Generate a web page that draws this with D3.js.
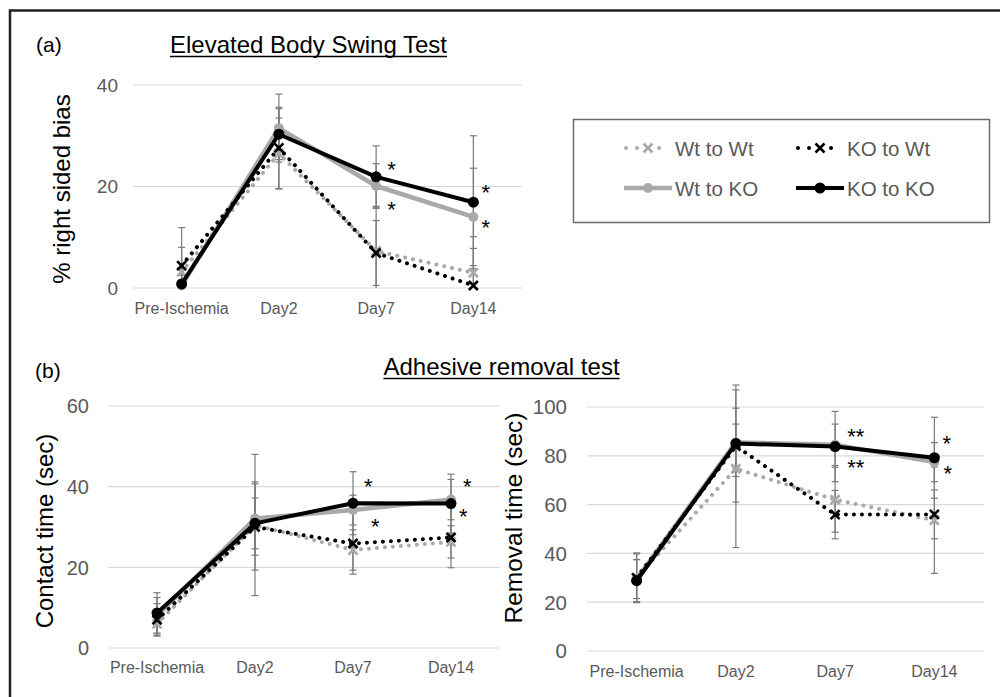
<!DOCTYPE html>
<html>
<head>
<meta charset="utf-8">
<script src="https://cdn.jsdelivr.net/npm/d3@7"></script>
<style>
  html, body { margin: 0; padding: 0; background: #fff; }
  svg { display: block; font-family: "Liberation Sans", Arial, sans-serif; }
</style>
</head>
<body>
<svg id="chart" width="1000" height="697"></svg>
<script>
// ---------------- DATA ----------------
const categories = ["Pre-Ischemia", "Day2", "Day7", "Day14"];
const seriesNames = ["Wt to Wt", "KO to Wt", "Wt to KO", "KO to KO"];

// (a) Elevated Body Swing Test: % right sided bias
const swingTicks = [0, 20, 40];
const swingWtWt = [3.2, 26.5, 7.3, 3.0];
const swingKOWt = [4.4, 27.6, 6.9, 0.5];
const swingWtKO = [0.5, 31.5, 20.1, 14.0];
const swingKOKO = [0.8, 30.3, 21.9, 16.9];
const swingErrWtWt = [4.8, 7.0, 8.8, 7.1];
const swingErrKOWt = [7.5, 8.0, 6.4, 7.3];
const swingErrWtKO = [2.0, 6.7, 4.4, 9.6];
const swingErrKOKO = [3.0, 5.0, 6.1, 13.1];
const swingStars = [
  { cat: "Day7", y: 24.0, dx: 15, text: "*" },
  { cat: "Day7", y: 16.2, dx: 15, text: "*" },
  { cat: "Day14", y: 19.5, dx: 12, text: "*" },
  { cat: "Day14", y: 12.6, dx: 12, text: "*" }
];

// (b) Adhesive removal test: Contact time (sec)
const contactTicks = [0, 20, 40, 60];
const contactWtWt = [6.0, 30.5, 24.3, 26.3];
const contactKOWt = [7.0, 30.0, 25.9, 27.4];
const contactWtKO = [8.0, 32.1, 34.2, 36.8];
const contactKOKO = [8.7, 30.9, 35.9, 35.8];
const contactErrWtWt = [3.0, 17.5, 5.0, 4.0];
const contactErrKOWt = [4.0, 10.7, 7.6, 7.5];
const contactErrWtKO = [4.5, 9.1, 3.7, 5.0];
const contactErrKOKO = [5.0, 6.3, 7.8, 7.3];
const contactStars = [
  { cat: "Day7", y: 40.9, dx: 15, text: "*" },
  { cat: "Day7", y: 31.0, dx: 22, text: "*" },
  { cat: "Day14", y: 40.9, dx: 16, text: "*" },
  { cat: "Day14", y: 33.5, dx: 12, text: "*" }
];

// (b) Adhesive removal test: Removal time (sec)
const removalTicks = [0, 20, 40, 60, 80, 100];
const removalWtWt = [30.0, 74.7, 62.0, 53.6];
const removalKOWt = [30.0, 84.0, 55.9, 56.0];
const removalWtKO = [29.5, 85.5, 84.5, 77.4];
const removalKOKO = [28.8, 85.0, 83.8, 79.2];
const removalErrWtWt = [10.2, 32.3, 13.3, 21.8];
const removalErrKOWt = [9.8, 9.0, 9.9, 10.0];
const removalErrWtKO = [8.0, 14.0, 8.5, 8.0];
const removalErrKOKO = [8.6, 24.0, 14.4, 16.6];
const removalStars = [
  { cat: "Day7", y: 89.2, dx: 14, text: "**" },
  { cat: "Day7", y: 76.5, dx: 14, text: "**" },
  { cat: "Day14", y: 86.3, dx: 12, text: "*" },
  { cat: "Day14", y: 74.0, dx: 13, text: "*" }
];

// ---------------- STYLES ----------------
const GRAY = "#a9a9a9";
const styles = {
  "Wt to Wt": { color: GRAY, dotted: true, marker: "x", width: 4 },
  "KO to Wt": { color: "#000", dotted: true, marker: "x", width: 4 },
  "Wt to KO": { color: GRAY, dotted: false, marker: "o", width: 4.5, r: 5 },
  "KO to KO": { color: "#000", dotted: false, marker: "o", width: 4, r: 5.5 }
};

const svg = d3.select("#chart");

// outer frame (top and left edges)
svg.append("path")
  .attr("d", "M10,697 V10.5 H1000")
  .attr("fill", "none").attr("stroke", "#222").attr("stroke-width", 2.5);

function drawMarker(g, type, cx, cy, st) {
  if (type === "x") {
    const s = 4.5;
    g.append("path")
      .attr("d", `M${cx - s},${cy - s}L${cx + s},${cy + s}M${cx - s},${cy + s}L${cx + s},${cy - s}`)
      .attr("stroke", st.color).attr("stroke-width", 2.6).attr("fill", "none");
  } else {
    g.append("circle").attr("cx", cx).attr("cy", cy).attr("r", st.r)
      .attr("fill", st.color);
  }
}

function drawPanel(cfg) {
  const x = d3.scaleBand().domain(categories).range([cfg.x0, cfg.x1]);
  const y = d3.scaleLinear().domain([0, cfg.ymax]).range([cfg.yb, cfg.yt]);
  const g = svg.append("g");

  // gridlines
  g.selectAll("line.grid").data(cfg.ticks).enter().append("line")
    .attr("x1", cfg.x0).attr("x2", cfg.x1)
    .attr("y1", d => y(d)).attr("y2", d => y(d))
    .attr("stroke", "#d9d9d9").attr("stroke-width", 1.2);

  // y tick labels
  g.selectAll("text.yt").data(cfg.ticks).enter().append("text")
    .attr("x", cfg.ylabX).attr("y", d => y(d)).attr("dy", "0.36em")
    .attr("text-anchor", "end").attr("fill", "#595959")
    .attr("font-size", cfg.yTickSize).text(d => d);

  // x tick labels
  g.selectAll("text.xt").data(categories).enter().append("text")
    .attr("x", d => x(d) + x.bandwidth() / 2).attr("y", cfg.xlabY)
    .attr("text-anchor", "middle").attr("fill", "#595959")
    .attr("font-size", 16).text(d => d);

  // axis title
  g.append("text")
    .attr("transform", `translate(${cfg.titleX},${cfg.titleY}) rotate(-90)`)
    .attr("text-anchor", "middle").attr("fill", "#000")
    .attr("font-size", cfg.titleSize).text(cfg.title);

  const cx = d => x(d) + x.bandwidth() / 2;
  const ymin = 0;

  // error bars
  const eg = g.append("g");
  cfg.series.forEach((vals, si) => {
    const errs = cfg.errors[si];
    categories.forEach((c, i) => {
      const hi = vals[i] + errs[i];
      const lo = Math.max(ymin, vals[i] - errs[i]);
      const px = cx(c);
      eg.append("line").attr("x1", px).attr("x2", px)
        .attr("y1", y(hi)).attr("y2", y(lo))
        .attr("stroke", "#7a7a7a").attr("stroke-width", 1.2);
      eg.append("line").attr("x1", px - 3.5).attr("x2", px + 3.5)
        .attr("y1", y(hi)).attr("y2", y(hi))
        .attr("stroke", "#7a7a7a").attr("stroke-width", 1.2);
      if (vals[i] - errs[i] >= ymin) {
        eg.append("line").attr("x1", px - 3.5).attr("x2", px + 3.5)
          .attr("y1", y(lo)).attr("y2", y(lo))
          .attr("stroke", "#7a7a7a").attr("stroke-width", 1.2);
      }
    });
  });

  // series lines and markers (draw order: Wt-Wt, Wt-KO, KO-Wt, KO-KO)
  const order = [0, 2, 1, 3];
  const line = d3.line().x((d, i) => cx(categories[i])).y(d => y(d));
  order.forEach(si => {
    const name = seriesNames[si];
    const st = styles[name];
    const vals = cfg.series[si];
    const p = g.append("path").attr("d", line(vals))
      .attr("fill", "none").attr("stroke", st.color)
      .attr("stroke-width", st.width)
      .attr("stroke-linejoin", "round");
    if (st.dotted) {
      p.attr("stroke-dasharray", "0.01 8").attr("stroke-linecap", "round");
    }
    vals.forEach((v, i) => drawMarker(g, st.marker, cx(categories[i]), y(v), st));
  });

  // significance stars
  g.selectAll("text.star").data(cfg.stars).enter().append("text")
    .attr("x", d => cx(d.cat) + d.dx).attr("y", d => y(d.y) + 11)
    .attr("fill", "#000").attr("font-size", 22)
    .attr("text-anchor", "start")
    .attr("dx", d => d.text.length > 1 ? -2 : -4)
    .text(d => d.text);
}

// Panel (a)
drawPanel({
  x0: 133, x1: 522, yb: 288, yt: 85, ymax: 40, ticks: swingTicks,
  ylabX: 118, yTickSize: 19, xlabY: 314,
  title: "% right sided bias", titleX: 70, titleY: 189, titleSize: 24,
  series: [swingWtWt, swingKOWt, swingWtKO, swingKOKO],
  errors: [swingErrWtWt, swingErrKOWt, swingErrWtKO, swingErrKOKO],
  stars: swingStars
});

// Panel (b) left
drawPanel({
  x0: 108, x1: 500, yb: 648, yt: 406, ymax: 60, ticks: contactTicks,
  ylabX: 89, yTickSize: 20, xlabY: 673,
  title: "Contact time (sec)", titleX: 53, titleY: 531, titleSize: 24,
  series: [contactWtWt, contactKOWt, contactWtKO, contactKOKO],
  errors: [contactErrWtWt, contactErrKOWt, contactErrWtKO, contactErrKOKO],
  stars: contactStars
});

// Panel (b) right
drawPanel({
  x0: 587, x1: 984, yb: 651, yt: 407, ymax: 100, ticks: removalTicks,
  ylabX: 567, yTickSize: 20.5, xlabY: 677,
  title: "Removal time (sec)", titleX: 522, titleY: 518, titleSize: 24.5,
  series: [removalWtWt, removalKOWt, removalWtKO, removalKOKO],
  errors: [removalErrWtWt, removalErrKOWt, removalErrWtKO, removalErrKOKO],
  stars: removalStars
});

// Panel labels and titles
svg.append("text").attr("x", 36).attr("y", 52).attr("font-size", 21).attr("fill", "#000").text("(a)");
svg.append("text").attr("x", 35).attr("y", 378).attr("font-size", 21).attr("fill", "#000").text("(b)");

function underlinedTitle(text, cxPos, baseY) {
  const t = svg.append("text").attr("x", cxPos).attr("y", baseY)
    .attr("text-anchor", "middle").attr("font-size", 24).attr("fill", "#000").text(text);
  const w = t.node().getComputedTextLength();
  svg.append("line").attr("x1", cxPos - w / 2).attr("x2", cxPos + w / 2)
    .attr("y1", baseY + 3.5).attr("y2", baseY + 3.5)
    .attr("stroke", "#000").attr("stroke-width", 1.6);
}
underlinedTitle("Elevated Body Swing Test", 308.5, 53);
underlinedTitle("Adhesive removal test", 501.5, 375);

// Legend
const lg = svg.append("g");
lg.append("rect").attr("x", 573.5).attr("y", 119.5).attr("width", 416).attr("height", 103)
  .attr("fill", "#fff").attr("stroke", "#6b6b6b").attr("stroke-width", 1.5);
const legendPos = [
  { name: "Wt to Wt", x: 624, y: 148 },
  { name: "KO to Wt", x: 796, y: 148 },
  { name: "Wt to KO", x: 624, y: 188 },
  { name: "KO to KO", x: 796, y: 188 }
];
legendPos.forEach(d => {
  const st = styles[d.name];
  const p = lg.append("line").attr("x1", d.x).attr("x2", d.x + 48)
    .attr("y1", d.y).attr("y2", d.y)
    .attr("stroke", st.color).attr("stroke-width", st.width);
  if (st.dotted) {
    p.attr("x1", d.x + 2).attr("x2", d.x + 46)
      .attr("stroke-dasharray", "0.01 11").attr("stroke-linecap", "round");
  }
  drawMarker(lg, st.marker, d.x + 24, d.y, st);
  lg.append("text").attr("x", d.x + 51).attr("y", d.y + 7.5)
    .attr("font-size", 20.5).attr("fill", "#595959").text(d.name);
});
</script>
</body>
</html>
